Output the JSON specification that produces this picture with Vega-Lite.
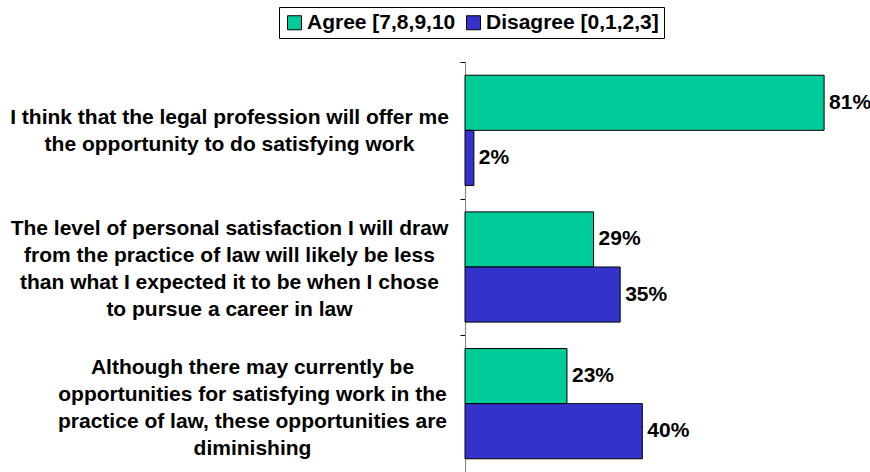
{
  "$schema": "https://vega.github.io/schema/vega-lite/v6.json",
  "width": 399,
  "height": 410,
  "autosize": {"type": "none"},
  "padding": {"left": 465, "top": 62, "right": 6, "bottom": 0},
  "background": "white",
  "config": {"view": {"stroke": null}, "font": "Liberation Sans"},
  "data": {
    "values": [
      {"question": "I think that the legal profession will offer me|the opportunity to do satisfying work", "series": "Agree [7,8,9,10", "value": 0.81},
      {"question": "I think that the legal profession will offer me|the opportunity to do satisfying work", "series": "Disagree [0,1,2,3]", "value": 0.02},
      {"question": "The level of personal satisfaction I will draw|from the practice of law will likely be less|than what I expected it to be when I chose|to pursue a career in law", "series": "Agree [7,8,9,10", "value": 0.29},
      {"question": "The level of personal satisfaction I will draw|from the practice of law will likely be less|than what I expected it to be when I chose|to pursue a career in law", "series": "Disagree [0,1,2,3]", "value": 0.35},
      {"question": "Although there may currently be|opportunities for satisfying work in the|practice of law, these opportunities are|diminishing", "series": "Agree [7,8,9,10", "value": 0.23},
      {"question": "Although there may currently be|opportunities for satisfying work in the|practice of law, these opportunities are|diminishing", "series": "Disagree [0,1,2,3]", "value": 0.40}
    ]
  },
  "encoding": {
    "y": {
      "field": "question",
      "type": "nominal",
      "sort": null,
      "scale": {"paddingInner": 0, "paddingOuter": 0},
      "axis": {
        "title": null,
        "domainColor": "#808080",
        "domainWidth": 1,
        "tickColor": "black",
        "tickSize": 5,
        "tickBand": "extent",
        "labelExpr": "isString(datum.value) ? split(datum.value, '|') : ''",
        "labelAlign": "center",
        "labelBaseline": "middle",
        "labelFontSize": 21,
        "labelFontWeight": "bold",
        "labelColor": "black",
        "labelLineHeight": 27,
        "labelPadding": {"condition": {"test": "isString(datum.value) && indexof(datum.value, 'Although') === 0", "value": 208}, "value": 231},
        "labelOffset": {"condition": [
          {"test": "isString(datum.value) && indexof(datum.value, 'I think') === 0", "value": -13},
          {"test": "isString(datum.value) && indexof(datum.value, 'Although') === 0", "value": -36}
        ], "value": -39},
        "labelLimit": 0,
        "labelBound": false,
        "labelOverlap": false
      }
    },
    "yOffset": {
      "field": "series",
      "type": "nominal",
      "sort": ["Agree [7,8,9,10", "Disagree [0,1,2,3]"],
      "scale": {"paddingInner": 0, "paddingOuter": 0.24}
    },
    "x": {
      "field": "value",
      "type": "quantitative",
      "scale": {"domain": [0, 0.9], "nice": false},
      "axis": null
    }
  },
  "layer": [
    {
      "mark": {"type": "bar", "stroke": "black", "strokeWidth": 1},
      "encoding": {
        "color": {
          "field": "series",
          "type": "nominal",
          "scale": {"domain": ["Agree [7,8,9,10", "Disagree [0,1,2,3]"], "range": ["#00CC99", "#3333CC"]},
          "legend": {
            "orient": "none",
            "legendX": -186,
            "legendY": -55,
            "direction": "horizontal",
            "title": null,
            "symbolType": "square",
            "symbolSize": 196,
            "symbolStrokeColor": "black",
            "symbolStrokeWidth": 1,
            "labelFontSize": 21,
            "labelFontWeight": "bold",
            "labelColor": "black",
            "labelLimit": 400,
            "labelOffset": 2,
            "columnPadding": 7,
            "padding": 5,
            "strokeColor": "black",
            "fillColor": "white"
          }
        }
      }
    },
    {
      "mark": {"type": "text", "align": "left", "baseline": "middle", "dx": 5, "fontSize": 21, "fontWeight": "bold", "color": "black"},
      "encoding": {
        "text": {"field": "value", "type": "quantitative", "format": ".0%"}
      }
    }
  ]
}
